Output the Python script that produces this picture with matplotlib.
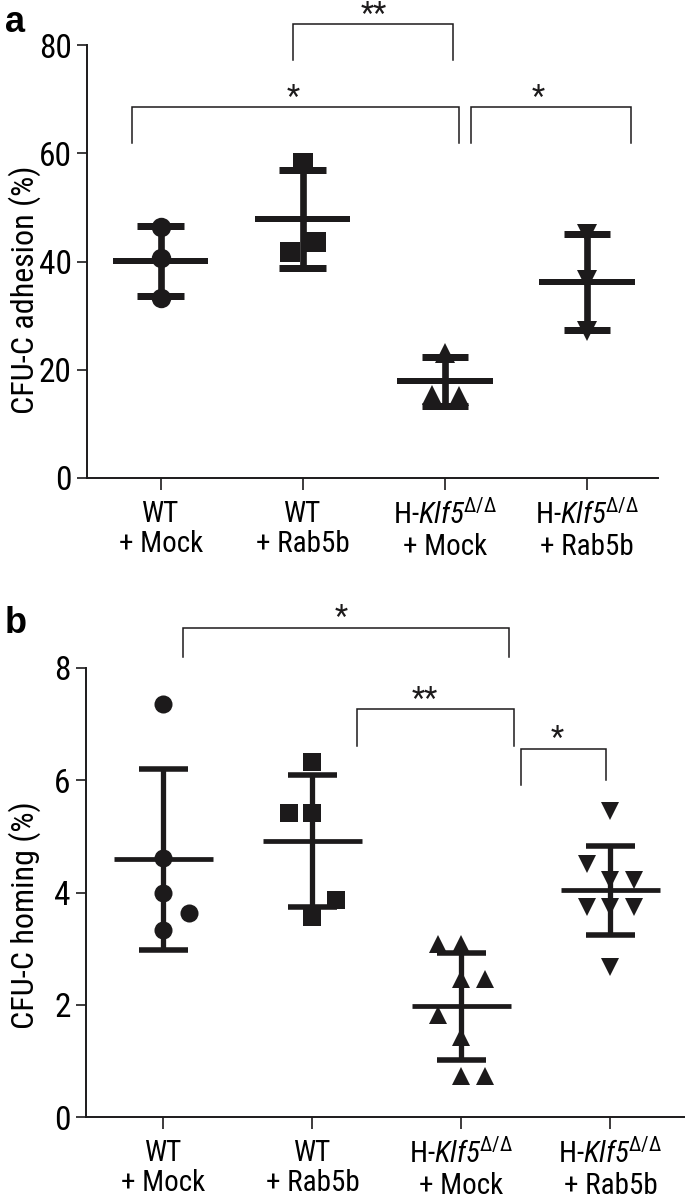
import numpy as np
import matplotlib
matplotlib.use('Agg')
import matplotlib.pyplot as plt
from matplotlib import font_manager

# Шрифт: берём самый узкий из доступных гротесков
FONT = 'Liberation Sans'
for name in ['Roboto Condensed', 'Liberation Sans Narrow', 'DejaVu Sans Condensed']:
    try:
        font_manager.findfont(font_manager.FontProperties(family=name),
                              fallback_to_default=False)
        FONT = name
        break
    except ValueError:
        pass

plt.rcParams['font.family'] = [FONT, 'Liberation Sans', 'DejaVu Sans']
plt.rcParams['mathtext.fontset'] = 'custom'
plt.rcParams['mathtext.rm'] = FONT + ':italic'
plt.rcParams['mathtext.it'] = FONT + ':italic'
plt.rcParams['mathtext.bf'] = FONT

# Данные
groups = ['WT\n+ Mock', 'WT\n+ Rab5b',
          'H-$\\mathit{Klf5}^{\\mathbf{\\Delta/\\Delta}}$\n+ Mock',
          'H-$\\mathit{Klf5}^{\\mathbf{\\Delta/\\Delta}}$\n+ Rab5b']
markers = ['o', 's', '^', 'v']

adhesion_wt_mock = [46.3, 40.7, 33.3]
adhesion_wt_rab5b = [58.2, 43.6, 41.8]
adhesion_klf5_mock = [23.1, 15.3, 15.2]
adhesion_klf5_rab5b = [45.0, 36.6, 27.2]

homing_wt_mock = [7.35, 4.61, 4.00, 3.64, 3.34]
homing_wt_rab5b = [6.33, 5.42, 5.42, 3.86, 3.56]
homing_klf5_mock = [3.09, 3.09, 2.46, 2.46, 1.82, 1.43, 0.73, 0.73]
homing_klf5_rab5b = [5.45, 4.51, 4.22, 4.22, 3.74, 3.74, 3.74, 2.68]

# горизонтальный разброс точек (в долях категории)
jitter_a = [[0, 0, 0], [0, 0.09, -0.09], [0, -0.09, 0.1], [0, 0, 0]]
jitter_b = [[0, 0, 0, 0.17, 0],
            [0, -0.16, 0, 0.155, 0],
            [-0.16, 0, 0, 0.155, -0.16, 0, 0, 0.155],
            [0, -0.16, 0, 0.16, -0.16, 0, 0.16, 0]]

# скобки значимости: x1, x2, верх, низ левой ноги, низ правой ноги, x звёзд, текст
brackets_a = [(0.93, 2.06, 83.9, 77.2, 77.2, 1.50, '**'),
              (-0.20, 2.10, 68.5, 61.9, 61.9, 0.93, '*'),
              (2.18, 3.31, 68.5, 61.9, 61.9, 2.66, '*')]
brackets_b = [(0.13, 2.32, 8.72, 8.19, 8.19, 1.19, '*'),
              (1.30, 2.35, 7.27, 6.61, 6.61, 1.755, '**'),
              (2.40, 2.97, 6.56, 5.91, 6.00, 2.64, '*')]

INK = '#1c1a1b'


def draw_panel(ax, data, jitter, msize, lw, ylim, yticks, ylabel, label_xy, brackets):
    for i, vals in enumerate(data):
        vals = np.array(vals)
        xs = i + np.array(jitter[i])
        ax.plot(xs, vals, linestyle='none', marker=markers[i], markersize=msize,
                color=INK, markeredgewidth=0, zorder=3)
        m = vals.mean()
        sd = vals.std(ddof=1)
        ax.vlines(i, m - sd, m + sd, color=INK, lw=lw, zorder=4)
        ax.hlines([m - sd, m + sd], i - 0.165, i + 0.165, color=INK, lw=lw * 1.05, zorder=4)
        ax.hlines(m, i - 0.335, i + 0.335, color=INK, lw=lw * 0.9, zorder=4)

    for x1, x2, yt, y1, y2, xs, txt in brackets:
        ax.plot([x1, x1, x2, x2], [y1, yt, yt, y2], color=INK, lw=1.1,
                clip_on=False, solid_joinstyle='miter')
        ax.annotate(txt, (xs, yt), xytext=(0, 1), textcoords='offset points',
                    ha='center', va='baseline', fontsize=22, color=INK,
                    annotation_clip=False)

    ax.set_xlim(-0.52, 3.5)
    ax.set_ylim(*ylim)
    ax.set_yticks(yticks)
    ax.set_xticks(range(len(groups)))
    ax.set_xticklabels(groups, fontsize=21, linespacing=1.12)
    ax.tick_params(axis='y', labelsize=24, length=7, width=1.2, pad=4, color=INK)
    ax.tick_params(axis='x', length=8.5, width=1.2, pad=7, color=INK)
    for s in ['top', 'right']:
        ax.spines[s].set_visible(False)
    for s in ['left', 'bottom']:
        ax.spines[s].set_linewidth(1.4)
        ax.spines[s].set_color(INK)
    ax.set_ylabel(ylabel, fontsize=23)
    ax.yaxis.set_label_coords(*label_xy)


fig = plt.figure(figsize=(6.85, 12.04), dpi=100)
ax_a = fig.add_axes([87 / 685, 1 - 478 / 1204, 571 / 685, 433 / 1204])
ax_b = fig.add_axes([86 / 685, 1 - 1117 / 1204, 599 / 685, 449 / 1204])

draw_panel(ax_a, [adhesion_wt_mock, adhesion_wt_rab5b, adhesion_klf5_mock, adhesion_klf5_rab5b],
           jitter_a, 14, 4.8, (0, 80), [0, 20, 40, 60, 80], 'CFU-C adhesion (%)',
           (-0.081, 0.434), brackets_a)
draw_panel(ax_b, [homing_wt_mock, homing_wt_rab5b, homing_klf5_mock, homing_klf5_rab5b],
           jitter_b, 13, 3.8, (0, 8), [0, 2, 4, 6, 8], 'CFU-C homing (%)',
           (-0.075, 0.45), brackets_b)

fig.text(5 / 685, 1 - 32 / 1204, 'a', fontsize=26, fontweight='bold',
         family=['Liberation Sans', 'DejaVu Sans'], va='baseline')
fig.text(5 / 685, 1 - 633 / 1204, 'b', fontsize=26, fontweight='bold',
         family=['Liberation Sans', 'DejaVu Sans'], va='baseline')

fig.savefig('out.png', dpi=100)
